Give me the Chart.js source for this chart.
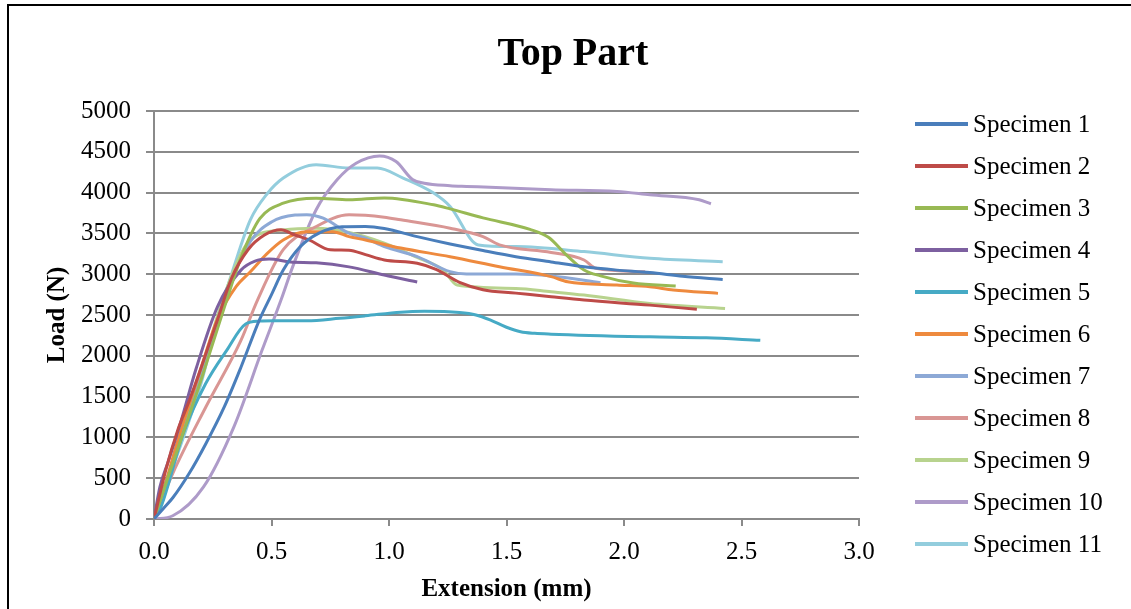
<!DOCTYPE html>
<html>
<head>
<meta charset="utf-8">
<script src="https://cdn.jsdelivr.net/npm/chart.js@4.4.1/dist/chart.umd.min.js"></script>
<style>
  html, body { margin: 0; padding: 0; background: #fff; overflow: hidden; }
  #wrap { position: relative; width: 1131px; height: 609px; }
  #frame { position: absolute; left: 7px; top: 4px; width: 1200px; height: 700px; border: 2px solid #000; pointer-events: none; }
  canvas { position: absolute; left: 0; top: 0; }
</style>
</head>
<body>
<div id="wrap">
  <canvas id="c" width="1131" height="609"></canvas>
  <div id="frame"></div>
</div>
<script>
// ---- Data ----
const seriesNames = ['Specimen 1','Specimen 2','Specimen 3','Specimen 4','Specimen 5','Specimen 6','Specimen 7','Specimen 8','Specimen 9','Specimen 10','Specimen 11'];
const seriesColors = ['#4A7EBB','#BE4B48','#98B954','#7D60A0','#46AAC5','#EE8A3E','#8DA9D6','#D99694','#B8D38E','#AE9BC9','#93CDDD'];
const xTicks = [0, 0.5, 1.0, 1.5, 2.0, 2.5, 3.0];
const yTicks = [0, 500, 1000, 1500, 2000, 2500, 3000, 3500, 4000, 4500, 5000];

const ext1  = [0, 0.04, 0.08, 0.15, 0.22, 0.3, 0.37, 0.45, 0.5, 0.55, 0.62, 0.7, 0.8, 0.9, 0.98, 1.12, 1.26, 1.4, 1.54, 1.69, 1.83, 1.97, 2.11, 2.25, 2.42];
const load1 = [0, 130, 260, 560, 920, 1380, 1860, 2450, 2750, 3050, 3330, 3500, 3580, 3585, 3560, 3460, 3370, 3290, 3215, 3150, 3090, 3050, 3020, 2975, 2935];

const ext2  = [0, 0.05, 0.1, 0.15, 0.2, 0.27, 0.33, 0.4, 0.47, 0.54, 0.6, 0.66, 0.75, 0.83, 0.9, 0.98, 1.12, 1.2, 1.3, 1.4, 1.54, 1.69, 1.83, 2.11, 2.31];
const load2 = [0, 600, 1080, 1450, 1850, 2440, 2950, 3300, 3480, 3545, 3480, 3420, 3300, 3295, 3240, 3175, 3135, 3060, 2900, 2810, 2768, 2723, 2683, 2621, 2570];

const ext3  = [0, 0.05, 0.1, 0.2, 0.3, 0.37, 0.45, 0.55, 0.69, 0.83, 0.98, 1.19, 1.26, 1.4, 1.6, 1.68, 1.75, 1.83, 1.9, 2.04, 2.22];
const load3 = [0, 430, 850, 1700, 2600, 3200, 3680, 3870, 3932, 3912, 3935, 3850, 3800, 3690, 3550, 3450, 3250, 3052, 2980, 2891, 2855];

const ext4  = [0, 0.025, 0.06, 0.11, 0.18, 0.27, 0.37, 0.43, 0.49, 0.58, 0.69, 0.83, 0.98, 1.12];
const load4 = [0, 390, 700, 1150, 1850, 2600, 3050, 3160, 3185, 3150, 3140, 3090, 2990, 2905];

const ext5  = [0, 0.03, 0.125, 0.22, 0.31, 0.39, 0.45, 0.51, 0.65, 0.79, 0.9, 1.05, 1.15, 1.3, 1.37, 1.43, 1.5, 1.56, 1.62, 1.69, 2.11, 2.35, 2.58];
const load5 = [0, 150, 1050, 1660, 2070, 2390, 2425, 2430, 2430, 2460, 2490, 2535, 2545, 2530, 2500, 2440, 2350, 2295, 2275, 2265, 2232, 2220, 2190];

const ext6  = [0, 0.05, 0.1, 0.15, 0.2, 0.27, 0.35, 0.41, 0.48, 0.55, 0.65, 0.76, 0.83, 0.9, 1.05, 1.26, 1.47, 1.69, 1.76, 1.97, 2.11, 2.21, 2.4];
const load6 = [0, 450, 950, 1400, 1850, 2450, 2850, 3030, 3250, 3420, 3520, 3520, 3460, 3420, 3320, 3215, 3092, 2970, 2908, 2867, 2846, 2806, 2765];

const ext7  = [0, 0.1, 0.2, 0.3, 0.41, 0.5, 0.6, 0.65, 0.72, 0.83, 0.9, 0.98, 1.12, 1.26, 1.33, 1.54, 1.69, 1.9];
const load7 = [0, 880, 1780, 2700, 3400, 3640, 3725, 3730, 3687, 3503, 3441, 3338, 3215, 3031, 3002, 3002, 2978, 2896];

const ext8  = [0, 0.08, 0.22, 0.37, 0.44, 0.55, 0.69, 0.83, 0.98, 1.05, 1.26, 1.4, 1.47, 1.69, 1.83, 1.88, 2.09];
const load8 = [0, 560, 1370, 2190, 2680, 3300, 3584, 3728, 3699, 3666, 3564, 3461, 3359, 3267, 3174, 3072, 3031];

const ext9  = [0, 0.1, 0.2, 0.3, 0.41, 0.55, 0.69, 0.83, 0.98, 1.12, 1.23, 1.29, 1.54, 1.69, 1.83, 2.11, 2.43];
const load9 = [0, 880, 1800, 2750, 3420, 3543, 3564, 3510, 3380, 3205, 3052, 2867, 2826, 2785, 2744, 2642, 2581];

const ext10  = [0, 0.08, 0.21, 0.34, 0.46, 0.54, 0.59, 0.69, 0.78, 0.86, 0.96, 1.03, 1.1, 1.15, 1.26, 1.33, 1.69, 1.97, 2.11, 2.32, 2.37];
const load10 = [0, 40, 390, 1130, 2070, 2680, 3090, 3790, 4160, 4360, 4450, 4380, 4160, 4115, 4085, 4076, 4035, 4014, 3973, 3912, 3863];

const ext11  = [0, 0.08, 0.2, 0.27, 0.34, 0.41, 0.48, 0.55, 0.69, 0.83, 0.95, 1.06, 1.19, 1.26, 1.38, 1.54, 1.83, 2.11, 2.42];
const load11 = [0, 634, 1660, 2440, 3090, 3666, 3980, 4178, 4342, 4301, 4301, 4178, 3994, 3830, 3359, 3338, 3277, 3195, 3154];

const extensions = [ext1, ext2, ext3, ext4, ext5, ext6, ext7, ext8, ext9, ext10, ext11];
const loads = [load1, load2, load3, load4, load5, load6, load7, load8, load9, load10, load11];

// ---- Chart ----
const FONT = "'Liberation Serif', 'Times New Roman', serif";

const datasets = seriesNames.map((name, i) => ({
  label: name,
  data: extensions[i].map((x, k) => ({ x: x, y: loads[i][k] })),
  borderColor: seriesColors[i],
  backgroundColor: seriesColors[i],
  borderWidth: 3,
  pointRadius: 0,
  showLine: true,
  fill: false,
  cubicInterpolationMode: 'monotone'
}));

// Custom legend drawn as a layout box on the right
const sideLegend = {
  id: 'sideLegend',
  beforeInit(chart) {
    const box = {
      options: { position: 'right', weight: 1000, fullSize: false },
      position: 'right', weight: 1000, fullSize: false,
      left: 0, top: 0, right: 0, bottom: 0, width: 0, height: 0,
      isHorizontal() { return false; },
      update(maxWidth, maxHeight) { this.width = 272; this.height = maxHeight; },
      draw() {
        const ctx = chart.ctx;
        ctx.save();
        chart.data.datasets.forEach((ds, i) => {
          const y = 124 + i * 42;
          const x0 = this.left + 56;
          ctx.strokeStyle = ds.borderColor;
          ctx.lineWidth = 4;
          ctx.beginPath();
          ctx.moveTo(x0, y);
          ctx.lineTo(x0 + 53, y);
          ctx.stroke();
          ctx.fillStyle = '#000';
          ctx.font = '25px ' + FONT;
          ctx.textBaseline = 'middle';
          ctx.textAlign = 'left';
          ctx.fillText(ds.label, x0 + 58, y + 1);
        });
        ctx.restore();
      }
    };
    Chart.layouts.addBox(chart, box);
  }
};

new Chart(document.getElementById('c'), {
  type: 'scatter',
  data: { datasets },
  plugins: [sideLegend],
  options: {
    responsive: false,
    animation: false,
    events: [],
    layout: { padding: { left: 15, right: 0, top: 0, bottom: 0 } },
    plugins: {
      legend: { display: false },
      tooltip: { enabled: false },
      title: {
        display: true,
        text: 'Top Part',
        color: '#000',
        font: { family: FONT, size: 40, weight: 'bold', lineHeight: 1.2 },
        padding: { top: 31, bottom: 32 }
      }
    },
    scales: {
      x: {
        type: 'linear',
        min: 0, max: 3,
        afterFit(s) { s.height = 90; },
        afterBuildTicks(s) { s.ticks = xTicks.map(v => ({ value: v })); },
        ticks: {
          color: '#000',
          font: { family: FONT, size: 25 },
          padding: 11,
          maxRotation: 0,
          callback: v => Number(v).toFixed(1)
        },
        grid: { drawOnChartArea: false, drawTicks: true, tickLength: 7, color: '#8a8a8a', lineWidth: 2 },
        border: { display: true, color: '#8a8a8a', width: 2 },
        title: {
          display: true,
          text: 'Extension (mm)',
          color: '#000',
          font: { family: FONT, size: 25, weight: 'bold', lineHeight: 1.2 },
          padding: { top: 0, bottom: 4 }
        }
      },
      y: {
        type: 'linear',
        min: 0, max: 5000,
        afterFit(s) { s.width = 139; },
        afterBuildTicks(s) { s.ticks = yTicks.map(v => ({ value: v })); },
        ticks: {
          color: '#000',
          font: { family: FONT, size: 25 },
          padding: 15,
          callback: v => String(v)
        },
        grid: { drawOnChartArea: true, drawTicks: true, tickLength: 8, color: '#8a8a8a', lineWidth: 2 },
        border: { display: true, color: '#8a8a8a', width: 2 },
        title: {
          display: true,
          text: 'Load (N)',
          color: '#000',
          font: { family: FONT, size: 25, weight: 'bold', lineHeight: 1.2 },
          padding: { top: 28, bottom: 0 }
        }
      }
    }
  }
});
</script>
</body>
</html>
